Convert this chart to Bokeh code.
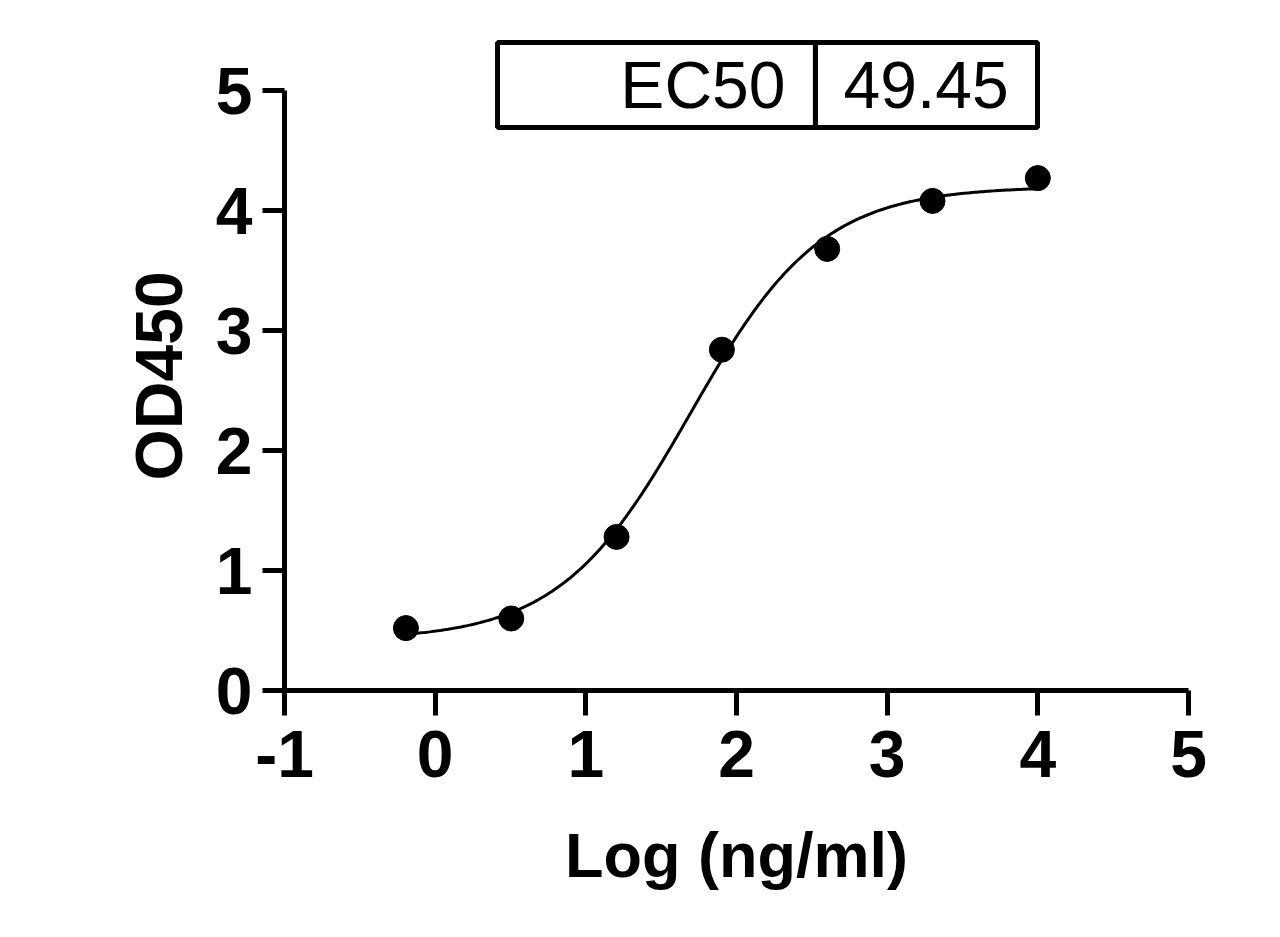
import numpy as np
from bokeh.plotting import figure
from bokeh.models import Range1d, FixedTicker, ColumnDataSource, Title
from bokeh.embed import file_html
from bokeh.resources import INLINE
from bokeh.core.properties import value

# ---- data ----
log_conc = [-0.194, 0.505, 1.204, 1.903, 2.602, 3.301, 4.000]   # Log (ng/ml)
od450 = [0.52, 0.60, 1.28, 2.84, 3.68, 4.08, 4.27]
x_ticks = [-1, 0, 1, 2, 3, 4, 5]
y_ticks = [0, 1, 2, 3, 4, 5]
ec50_label = "EC50"
ec50_value = 49.45
# four-parameter logistic fit parameters (EC50 from the table)
fit_bottom = 0.42
fit_top = 4.20
fit_hill = 1.0

FONT = "Liberation Sans"

p = figure(width=1264, height=920, output_backend="svg", toolbar_location=None,
           x_range=Range1d(-1, 5), y_range=Range1d(0, 5.45))
p.min_border_left = 284
p.min_border_right = 76
p.min_border_top = 36
p.min_border_bottom = 230
p.outline_line_color = None
p.xgrid.visible = False
p.ygrid.visible = False
p.background_fill_color = "white"
p.border_fill_color = "white"

for ax in (p.xaxis[0], p.yaxis[0]):
    ax.axis_line_width = 5
    ax.axis_line_color = "black"
    ax.major_tick_line_width = 5
    ax.major_tick_line_color = "black"
    ax.minor_tick_line_color = None
    ax.major_tick_in = 0
    ax.major_label_text_font = FONT
    ax.major_label_text_font_style = "bold"
    ax.major_label_text_font_size = "66px"
    ax.major_label_text_color = "black"
    ax.axis_label_text_font = FONT
    ax.axis_label_text_font_style = "bold"
    ax.axis_label_text_font_size = "63px"
    ax.axis_label_text_color = "black"

p.xaxis[0].ticker = FixedTicker(ticks=x_ticks)
p.yaxis[0].ticker = FixedTicker(ticks=y_ticks)
p.xaxis[0].major_label_overrides = {t: str(t) for t in x_ticks}
p.yaxis[0].bounds = (0, 5)
p.xaxis[0].major_tick_out = 25
p.yaxis[0].major_tick_out = 22
p.xaxis[0].major_label_standoff = 15
p.yaxis[0].major_label_standoff = 10
p.xaxis[0].axis_label = "Log (ng/ml)"
p.xaxis[0].axis_label_standoff = 40

# y axis title as a left-side title so it can be offset along the axis
ytitle = Title(text="OD450", align="left", offset=210, standoff=33,
               text_font=FONT, text_font_style="bold", text_font_size="66px",
               text_color="black")
p.add_layout(ytitle, "left")

# fitted curve
xs = np.linspace(min(log_conc), max(log_conc), 300)
ys = fit_bottom + (fit_top - fit_bottom) / (1 + 10 ** ((np.log10(ec50_value) - xs) * fit_hill))
p.line(xs, ys, line_color="black", line_width=3)

# data points
src = ColumnDataSource(dict(x=log_conc, y=od450))
p.scatter("x", "y", source=src, size=25, marker="circle", fill_color="black", line_color="black")

# EC50 table
p.quad(left=[0.414, 2.524], right=[2.524, 3.998], bottom=[4.692, 4.692], top=[5.40, 5.40],
       fill_color="white", line_color="black", line_width=5)
p.text(x=[2.325], y=[5.046], text=[ec50_label], text_font=value(FONT), text_font_size="66px",
       text_align="right", text_baseline="middle", text_color="black")
p.text(x=[2.710], y=[5.046], text=[f"{ec50_value:.2f}"], text_font=value(FONT), text_font_size="66px",
       text_align="left", text_baseline="middle", text_color="black")

open("out.html", "w").write(file_html(p, INLINE))
